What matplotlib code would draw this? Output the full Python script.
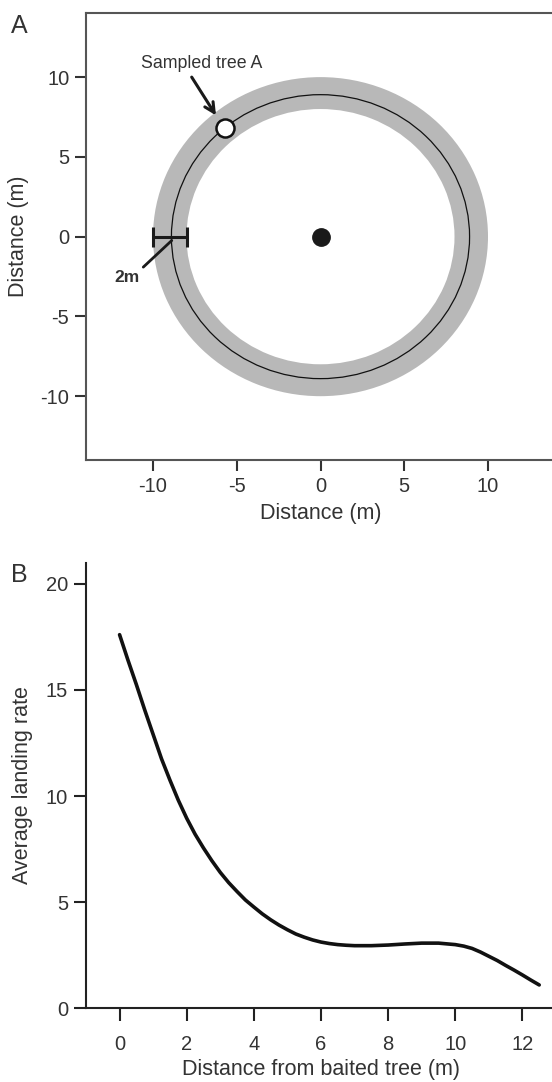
import numpy as np
import matplotlib
matplotlib.use("Agg")
import matplotlib.pyplot as plt
from matplotlib.patches import Annulus, Circle

plt.rcParams['font.family'] = ['Liberation Sans', 'DejaVu Sans']
plt.rcParams['axes.unicode_minus'] = False

# panel A: sampling layout (metres)
ring_outer = 10.0
ring_width = 2.0
track_radius = 8.9
baited_tree = (0.0, 0.0)
sampled_tree = (-5.7, 6.8)
scale_bar_x = [-10.0, -8.0]
scale_bar_y = 0.0
a_ticks = [-10, -5, 0, 5, 10]

# panel B: average landing rate vs distance from baited tree
distance = [0.0, 0.25, 0.5, 0.75, 1.0, 1.25, 1.5, 1.75, 2.0, 2.25, 2.5, 2.75,
            3.0, 3.25, 3.5, 3.75, 4.0, 4.25, 4.5, 4.75, 5.0, 5.25, 5.5, 5.75,
            6.0, 6.25, 6.5, 6.75, 7.0, 7.5, 8.0, 8.5, 9.0, 9.5, 10.0, 10.25,
            10.5, 10.75, 11.0, 11.25, 11.5, 11.75, 12.0, 12.25, 12.5]
landing_rate = [17.6, 16.4, 15.25, 14.05, 12.9, 11.75, 10.75, 9.8, 8.95, 8.2,
                7.55, 6.95, 6.4, 5.92, 5.5, 5.1, 4.77, 4.45, 4.17, 3.92, 3.7,
                3.5, 3.35, 3.22, 3.12, 3.05, 3.0, 2.97, 2.95, 2.95, 2.98, 3.03,
                3.07, 3.07, 3.0, 2.93, 2.82, 2.65, 2.45, 2.25, 2.02, 1.8, 1.57,
                1.33, 1.1]
b_xticks = [0, 2, 4, 6, 8, 10, 12]
b_yticks = [0, 5, 10, 15, 20]

txt = '#333333'
spine = '#555555'

fig = plt.figure(figsize=(5.52, 10.82), dpi=100)

# ---------------- panel A ----------------
ax1 = fig.add_axes([86/552, 1-460/1082, (555-86)/552, (460-13.3)/1082])
ax1.add_patch(Annulus(baited_tree, ring_outer, ring_width, facecolor='#b8b8b8',
                      edgecolor='none', zorder=1))
ax1.add_patch(Circle(baited_tree, track_radius, fill=False, edgecolor='#111111',
                     lw=0.9, zorder=2))
ax1.plot(*baited_tree, 'o', color='#1a1a1a', ms=12.5, zorder=4)
ax1.plot(*sampled_tree, 'o', mfc='white', mec='#111111', mew=1.8, ms=13, zorder=4)

# 2m scale bar
ax1.errorbar(np.mean(scale_bar_x), scale_bar_y, xerr=(scale_bar_x[1]-scale_bar_x[0])/2,
             fmt='none', ecolor='#1a1a1a', elinewidth=2.2, capsize=7, capthick=2.2, zorder=5)
ax1.annotate('', xy=(-8.88, -0.24), xytext=(-10.58, -1.91),
             arrowprops=dict(arrowstyle='-', color='#1a1a1a', lw=2,
                             shrinkA=0, shrinkB=0))
ax1.text(-11.57, -2.54, '2m', fontsize=12.5, fontweight='bold', color=txt,
         ha='center', va='center')

ax1.annotate('', xy=(-6.24, 7.6), xytext=(-7.69, 10.0),
             arrowprops=dict(arrowstyle='->,head_length=0.7,head_width=0.35',
                             color='#1a1a1a', lw=2.2, shrinkA=0, shrinkB=0))
ax1.text(-7.1, 10.85, 'Sampled tree A', fontsize=12.8, color=txt,
         ha='center', va='center')

ax1.set_xlim(-14, 14)
ax1.set_ylim(-14, 14)
ax1.set_xticks(a_ticks)
ax1.set_yticks(a_ticks)
ax1.set_xticklabels([str(t) for t in a_ticks])
ax1.set_yticklabels([str(t) for t in a_ticks])
ax1.set_xlabel('Distance (m)', fontsize=15.5, color=txt, labelpad=5)
ax1.set_ylabel('Distance (m)', fontsize=15.5, color=txt, labelpad=8)
for s in ax1.spines.values():
    s.set_color(spine)
    s.set_linewidth(1.5)
ax1.tick_params(direction='out', length=8, width=1.5, color='#333333',
                labelsize=14.5, labelcolor=txt, pad=4)
fig.text(11/552, 1-26/1082, 'A', fontsize=18, color=txt, va='center', ha='left')

# ---------------- panel B ----------------
ax2 = fig.add_axes([86/552, 1-1008.3/1082, (556-86)/552, (1008.3-562.5)/1082])
ax2.plot(distance, landing_rate, color='#111111', lw=2.6, solid_capstyle='round')
ax2.set_xlim(-1, 13)
ax2.set_ylim(0, 21)
ax2.set_xticks(b_xticks)
ax2.set_yticks(b_yticks)
ax2.set_xlabel('Distance from baited tree (m)', fontsize=15.5, color=txt, labelpad=4)
ax2.set_ylabel('Average landing rate', fontsize=15.5, color=txt, labelpad=9)
ax2.spines['top'].set_visible(False)
ax2.spines['right'].set_visible(False)
for k in ('left', 'bottom'):
    ax2.spines[k].set_color('#222222')
    ax2.spines[k].set_linewidth(1.5)
ax2.tick_params(direction='out', length=9, width=1.5, color='#222222',
                labelsize=14.5, labelcolor=txt, pad=4)
ax2.tick_params(axis='x', pad=10)
fig.text(11/552, 1-575/1082, 'B', fontsize=18, color=txt, va='center', ha='left')

fig.savefig('out.png', dpi=100, facecolor='white')
